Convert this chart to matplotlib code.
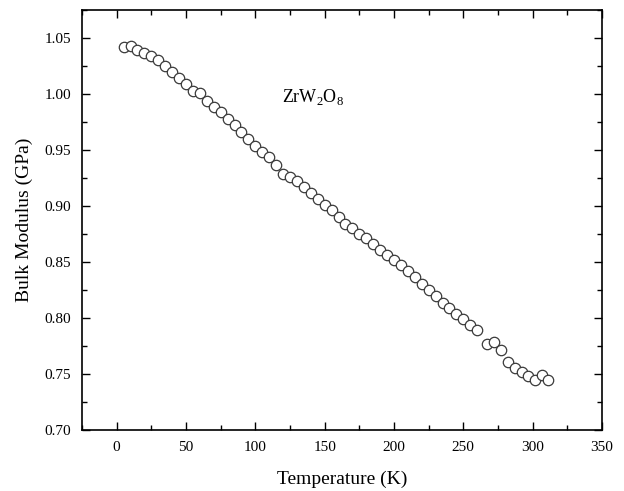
import matplotlib
matplotlib.use('Agg')
import numpy as np
import matplotlib.pyplot as plt
from matplotlib.ticker import MultipleLocator

plt.rcParams['font.family'] = ['Liberation Serif', 'DejaVu Serif']
plt.rcParams['mathtext.fontset'] = 'custom'
plt.rcParams['mathtext.rm'] = 'Liberation Serif'

# temperature (K) and bulk modulus readings
temp = [5, 10, 15, 20, 25, 30, 35, 40, 45, 50, 55, 60, 65, 70, 75, 80, 85, 90,
        95, 100, 105, 110, 115, 120, 125, 130, 135, 140, 145, 150, 155, 160,
        165, 170, 175, 180, 185, 190, 195, 200, 205, 210, 215, 220, 225, 230,
        235, 240, 245, 250, 255, 260, 267, 272, 277, 282, 287, 292, 297, 302,
        307, 311]
bulk = [1.042, 1.043, 1.039, 1.037, 1.034, 1.030, 1.025, 1.020, 1.014, 1.009,
        1.003, 1.001, 0.994, 0.988, 0.984, 0.978, 0.972, 0.966, 0.960, 0.954,
        0.948, 0.944, 0.937, 0.929, 0.926, 0.922, 0.917, 0.912, 0.906, 0.901,
        0.896, 0.890, 0.884, 0.880, 0.875, 0.871, 0.866, 0.861, 0.856, 0.852,
        0.847, 0.842, 0.837, 0.830, 0.825, 0.820, 0.813, 0.809, 0.804, 0.799,
        0.794, 0.789, 0.777, 0.779, 0.771, 0.761, 0.755, 0.752, 0.748, 0.745,
        0.749, 0.745]
yticks = [0.70, 0.75, 0.80, 0.85, 0.90, 0.95, 1.00, 1.05]

fig = plt.figure(figsize=(6.24, 4.91), dpi=100)
ax = fig.add_axes([0.1314, 0.1242, 0.8333, 0.8554])

ax.plot(temp, bulk, 'o', markersize=7.5, markerfacecolor='white',
        markeredgecolor='#3a3a3a', markeredgewidth=0.9, linestyle='none')

ax.set_xlim(-25, 350)
ax.set_ylim(0.70, 1.075)
ax.set_xticks(range(0, 351, 50))
ax.xaxis.set_minor_locator(MultipleLocator(25))
ax.set_yticks(yticks)
ax.set_yticklabels(['%.2f' % v for v in yticks])
ax.yaxis.set_minor_locator(MultipleLocator(0.025))

ax.tick_params(which='both', direction='in', top=True, right=True, labelsize=11)
ax.tick_params(which='major', length=6, width=1)
ax.tick_params(which='minor', length=3.5, width=1)
ax.tick_params(axis='x', pad=8)
ax.tick_params(axis='y', pad=8)
for s in ax.spines.values():
    s.set_linewidth(1.2)

ax.set_xlabel('Temperature (K)', fontsize=14, labelpad=12)
ax.set_ylabel('Bulk Modulus (GPa)', fontsize=14, labelpad=8)

ax.text(119, 0.993, r'ZrW$_2$O$_8$', fontsize=13)

fig.savefig('out.png', dpi=100)
